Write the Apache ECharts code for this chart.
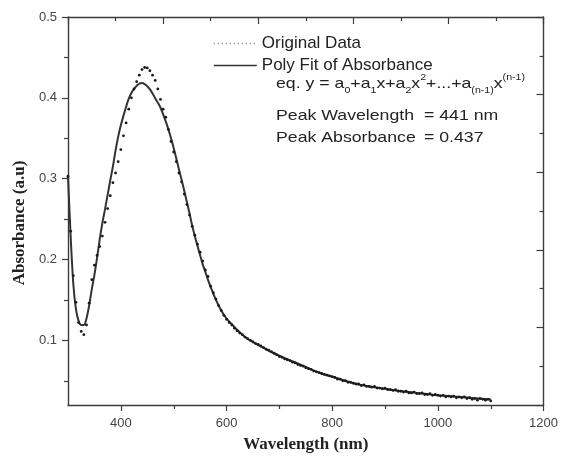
<!DOCTYPE html>
<html>
<head>
<meta charset="utf-8">
<script src="https://cdn.jsdelivr.net/npm/echarts@6/dist/echarts.min.js"></script>
<style>
  html, body { margin: 0; padding: 0; background: #fff; }
  #chart { width: 561px; height: 458px; }
</style>
</head>
<body>
<div id="chart"></div>
<script>
// original measured points (nm, a.u.)
const origX = [300,305,310,315,320,325,330,335,340,345,350,355,360,365,370,375,380,385,390,395,
  400,405,410,415,420,425,430,435,440,445,450,455,460,465,470,475,480,485,490,495,
  500,505,510,515,520,525,530,535,540,545,550,555,560,565,570,575,580,585,590,595,
  600,605,610,615,620,625,630,635,640,645,650,655,660,665,670,675,680,685,690,695,
  700,705,710,715,720,725,730,735,740,745,750,755,760,765,770,775,780,785,790,795,
  800,805,810,815,820,825,830,835,840,845,850,855,860,865,870,875,880,885,890,895,
  900,905,910,915,920,925,930,935,940,945,950,955,960,965,970,975,980,985,990,995,
  1000,1005,1010,1015,1020,1025,1030,1035,1040,1045,1050,1055,1060,1065,1070,1075,1080,1085,1090,1095,1100];
const origY = [0.303,0.235,0.180,0.147,0.122,0.111,0.107,0.119,0.146,0.175,0.193,0.205,0.216,0.229,0.246,0.263,0.279,0.295,0.307,0.321,
  0.336,0.353,0.369,0.386,0.400,0.411,0.420,0.428,0.435,0.4375,0.437,0.4335,0.428,0.4215,0.411,0.398,0.386,0.376,0.361,0.346,
  0.333,0.321,0.307,0.296,0.281,0.268,0.255,0.241,0.230,0.219,0.209,0.198,0.187,0.179,0.167,0.159,0.151,0.143,0.137,0.131,
  0.126,0.122,0.119,0.115,0.112,0.109,0.107,0.104,0.102,0.100,0.098,0.096,0.095,0.093,0.091,0.089,0.088,0.086,0.084,0.082,
  0.080,0.079,0.077,0.076,0.075,0.073,0.072,0.070,0.069,0.068,0.066,0.065,0.064,0.062,0.061,0.060,0.059,0.058,0.057,0.056,
  0.055,0.054,0.052,0.052,0.050,0.050,0.048,0.048,0.047,0.046,0.046,0.044,0.045,0.043,0.043,0.042,0.043,0.041,0.041,0.040,
  0.041,0.039,0.039,0.038,0.039,0.037,0.037,0.036,0.037,0.035,0.035,0.036,0.034,0.034,0.035,0.033,0.033,0.034,0.032,0.033,
  0.032,0.031,0.032,0.030,0.031,0.030,0.031,0.029,0.030,0.029,0.030,0.028,0.029,0.027,0.028,0.026,0.028,0.027,0.026,0.027,0.025];

// polynomial fit curve
const fitX = [300,305,310,315,320,325,330,335,340,345,350,355,360,365,370,375,380,385,390,395,
  400,405,410,415,420,425,430,435,440,445,450,455,460,465,470,475,480,485,490,495,
  500,505,510,515,520,525,530,535,540,545,550,555,560,565,570,580,590,600,610,620,
  630,640,650,660,670,680,690,700,720,740,760,780,800,820,840,860,880,900,920,940,
  960,980,1000,1020,1040,1060,1080,1100];
const fitY = [0.303,0.229,0.170,0.139,0.124,0.119,0.119,0.127,0.143,0.163,0.181,0.202,0.225,0.245,0.262,0.280,0.298,0.315,0.335,0.352,
  0.366,0.378,0.389,0.399,0.406,0.411,0.415,0.4176,0.4183,0.4170,0.4143,0.4105,0.4055,0.3995,0.394,0.388,0.3795,0.3708,0.361,0.350,
  0.338,0.325,0.3115,0.2985,0.285,0.271,0.257,0.242,0.229,0.217,0.2055,0.194,0.1845,0.1748,0.166,0.150,0.137,0.127,0.120,0.113,
  0.107,0.102,0.098,0.094,0.091,0.087,0.084,0.081,0.075,0.070,0.064,0.059,0.055,0.051,0.047,0.044,0.042,0.040,0.038,0.0365,
  0.035,0.0335,0.032,0.031,0.030,0.029,0.028,0.027];

const xLabels = [400, 600, 800, 1000, 1200];
const xMinor = [500, 700, 900, 1100];
const yLabels = [0.1, 0.2, 0.3, 0.4, 0.5];
const yMinor = [0.05, 0.15, 0.25, 0.35, 0.45];

const axisColor = '#3c3c3c';
const labelFont = { color: '#444', fontSize: 13, fontFamily: 'Liberation Sans, Arial' };
const nameFont = { color: '#222', fontSize: 17, fontWeight: 'bold', fontFamily: 'Liberation Serif, Times New Roman' };
const noteFont = 'Liberation Sans, Arial';
const stretch = 1.18; // annotation text in the figure is a bit wide

const chart = echarts.init(document.getElementById('chart'));

const option = {
    backgroundColor: '#fff',
    animation: false,
    grid: [
        { left: 68, right: 17, top: 17, bottom: 53 },
        { left: 68, right: 17, top: 17, bottom: 53 }
    ],
    legend: {
        orient: 'vertical',
        left: 213,
        top: 35,
        padding: 0,
        itemWidth: 43,
        itemHeight: 14,
        itemGap: 5,
        textStyle: { color: '#222', fontSize: 17, fontFamily: noteFont },
        data: [
            { name: 'Original Data', itemStyle: { opacity: 0 },
              lineStyle: { type: [1, 3], width: 1.3, color: '#777', opacity: 1 } },
            { name: 'Poly Fit of Absorbance', itemStyle: { opacity: 0 },
              lineStyle: { type: 'solid', width: 1.6, color: '#333', opacity: 1 } }
        ]
    },
    xAxis: [
        {
            type: 'value', gridIndex: 0, position: 'bottom',
            min: 300, max: 1200,
            name: 'Wavelength (nm)', nameLocation: 'middle', nameGap: 31,
            nameTextStyle: nameFont,
            axisLine: { lineStyle: { color: axisColor, width: 1.4 } },
            axisTick: { customValues: xLabels, length: 6, lineStyle: { color: axisColor, width: 1.2 } },
            axisLabel: { customValues: xLabels, margin: 12, formatter: v => String(v), ...labelFont },
            splitLine: { show: false }
        },
        {
            type: 'value', gridIndex: 0, position: 'top',
            min: 0, max: 5, interval: 1,
            axisLine: { lineStyle: { color: axisColor, width: 1.4 } },
            axisTick: { inside: true, length: 7, lineStyle: { color: axisColor, width: 1.2 } },
            minorTick: { show: true, splitNumber: 2, length: 4, lineStyle: { color: axisColor, width: 1.2 } },
            axisLabel: { show: false },
            splitLine: { show: false }
        },
        {
            type: 'value', gridIndex: 1, position: 'bottom',
            min: 300, max: 1200,
            axisLine: { show: false },
            axisTick: { customValues: xMinor, length: 4, lineStyle: { color: axisColor, width: 1.2 } },
            axisLabel: { show: false },
            splitLine: { show: false }
        }
    ],
    yAxis: [
        {
            type: 'value', gridIndex: 0, position: 'left',
            min: 0.02, max: 0.5,
            name: 'Absorbance (a.u)', nameLocation: 'middle', nameGap: 40,
            nameTextStyle: { ...nameFont, padding: [0, 24, 0, 0] },
            axisLine: { lineStyle: { color: axisColor, width: 1.4 } },
            axisTick: { customValues: yLabels, length: 6, lineStyle: { color: axisColor, width: 1.2 } },
            axisLabel: { customValues: yLabels, margin: 11, ...labelFont },
            splitLine: { show: false }
        },
        {
            type: 'value', gridIndex: 0, position: 'right',
            min: 0, max: 5, interval: 1,
            axisLine: { lineStyle: { color: axisColor, width: 1.4 } },
            axisTick: { inside: true, length: 7, lineStyle: { color: axisColor, width: 1.2 } },
            minorTick: { show: true, splitNumber: 2, length: 4, lineStyle: { color: axisColor, width: 1.2 } },
            axisLabel: { show: false },
            splitLine: { show: false }
        },
        {
            type: 'value', gridIndex: 1, position: 'left',
            min: 0.02, max: 0.5,
            axisLine: { show: false },
            axisTick: { customValues: yMinor, length: 4, lineStyle: { color: axisColor, width: 1.2 } },
            axisLabel: { show: false },
            splitLine: { show: false }
        }
    ],
    series: [
        {
            name: 'Original Data',
            type: 'line',
            xAxisIndex: 0, yAxisIndex: 0,
            symbol: 'circle',
            symbolSize: 2.8,
            showSymbol: true,
            showAllSymbol: true,
            itemStyle: { color: '#1a1a1a' },
            lineStyle: { width: 0, opacity: 0 },
            data: origX.map((x, i) => [x, origY[i]]),
            z: 3
        },
        {
            name: 'Poly Fit of Absorbance',
            type: 'line',
            xAxisIndex: 0, yAxisIndex: 0,
            symbol: 'none',
            smooth: 0.3,
            lineStyle: { color: '#333', width: 2 },
            data: fitX.map((x, i) => [x, fitY[i]]),
            z: 2
        }
    ],
    graphic: [
        {
            type: 'text', x: 276, y: 73, scaleX: stretch,
            style: {
                text: 'eq. y = a{sub|0}+a{sub|1}x+a{sub|2}x{sup|2}+...+a{sub|(n-1)}x{sup|(n-1)}',
                fill: '#222', font: '15px ' + noteFont,
                rich: {
                    sub: { fontSize: 9, fontFamily: noteFont, fill: '#222', verticalAlign: 'bottom', lineHeight: 12 },
                    sup: { fontSize: 9, fontFamily: noteFont, fill: '#222', verticalAlign: 'top', lineHeight: 12 }
                },
                lineHeight: 22
            }
        },
        { type: 'text', x: 276, y: 108, scaleX: stretch, style: { text: 'Peak Wavelength', fill: '#222', font: '15px ' + noteFont } },
        { type: 'text', x: 424, y: 108, scaleX: stretch, style: { text: '= 441 nm', fill: '#222', font: '15px ' + noteFont } },
        { type: 'text', x: 276, y: 130, scaleX: stretch, style: { text: 'Peak Absorbance', fill: '#222', font: '15px ' + noteFont } },
        { type: 'text', x: 424, y: 130, scaleX: stretch, style: { text: '= 0.437', fill: '#222', font: '15px ' + noteFont } }
    ]
};

chart.setOption(option);
</script>
</body>
</html>
